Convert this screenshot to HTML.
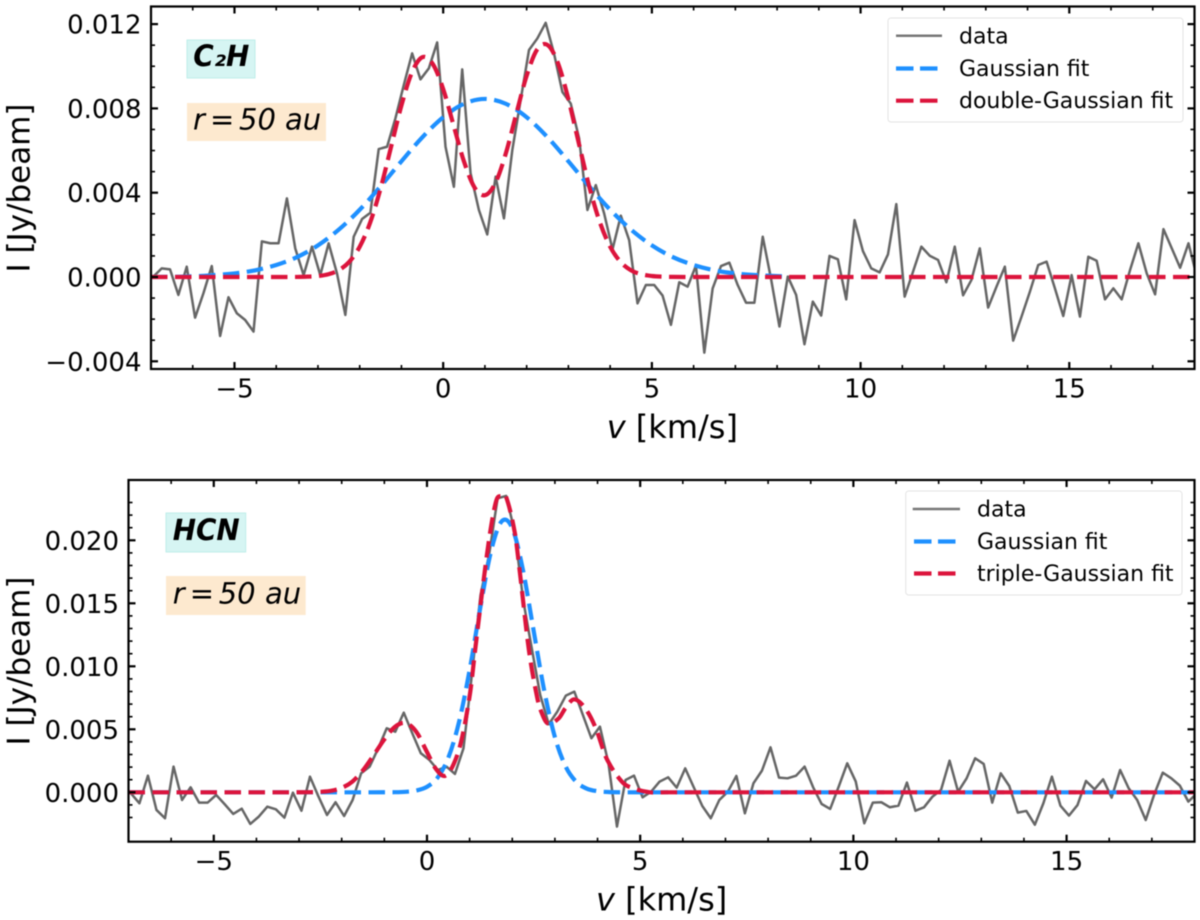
<!DOCTYPE html>
<html lang="en">
<head>
<meta charset="utf-8">
<title>C2H and HCN line spectra</title>
<style>
html,body{margin:0;padding:0;background:#fff;width:1200px;height:920px;overflow:hidden}
svg{display:block;filter:blur(0.5px)}
text{font-family:"DejaVu Sans","Liberation Sans",sans-serif;fill:#000}
</style>
</head>
<body>
<svg id="chart" xmlns="http://www.w3.org/2000/svg" width="1200" height="920" viewBox="0 0 1200 920">
  <rect x="0" y="0" width="1200" height="920" fill="#fff"/>
  <defs>
    <clipPath id="clip-top"><rect x="151" y="6.5" width="1043.5" height="362.5"/></clipPath>
    <clipPath id="clip-bottom"><rect x="128.5" y="480" width="1066" height="361.7"/></clipPath>
  </defs>

  <g id="panel-top">
    <g id="top-series" clip-path="url(#clip-top)"></g>
    <g id="top-ticks"></g>
    <rect x="151" y="6.5" width="1043.5" height="362.5" fill="none" stroke="#000" stroke-width="2.2"/>
    <rect x="187" y="40" width="68" height="38" fill="#d6f5f3" stroke="#bfeee9" stroke-width="1"/>
    <text x="193.3" y="66" font-size="29" font-weight="bold" font-style="italic" textLength="56" lengthAdjust="spacingAndGlyphs">C₂H</text>
    <rect x="187" y="103" width="139" height="38" fill="#fde9cf"/>
    <text y="129.3" font-size="29" font-style="italic"><tspan x="193">r</tspan><tspan x="210">=</tspan><tspan x="239">50</tspan><tspan x="285">au</tspan></text>
    <g>
      <rect x="888" y="18" width="295" height="104" rx="3" fill="#fff" stroke="#e4e4e4" stroke-width="1"/>
      <line x1="896" y1="35.7" x2="942" y2="35.7" stroke="#777" stroke-width="2.5"/>
      <text x="959" y="43.3" font-size="22">data</text>
      <line x1="896" y1="68.5" x2="938" y2="68.5" stroke="#1e90ff" stroke-width="4.2" stroke-dasharray="17.5 6.5"/>
      <text x="959" y="76" font-size="22">Gaussian fit</text>
      <line x1="896" y1="100.7" x2="938" y2="100.7" stroke="#dc143c" stroke-width="4.2" stroke-dasharray="17.5 6.5"/>
      <text x="959" y="108" font-size="22">double-Gaussian fit</text>
    </g>
    <text x="606.7" y="438" font-size="32"><tspan font-style="italic">v</tspan> [km/s]</text>
    <text transform="translate(29.5 188) rotate(-90)" text-anchor="middle" font-size="31">I [Jy/beam]</text>
  </g>

  <g id="panel-bottom">
    <g id="bottom-series" clip-path="url(#clip-bottom)"></g>
    <g id="bottom-ticks"></g>
    <rect x="128.5" y="480" width="1066" height="361.7" fill="none" stroke="#000" stroke-width="2.2"/>
    <rect x="166" y="513" width="79.7" height="39" fill="#d6f5f3" stroke="#bfeee9" stroke-width="1"/>
    <text x="172.7" y="540" font-size="29" font-weight="bold" font-style="italic" textLength="67" lengthAdjust="spacingAndGlyphs">HCN</text>
    <rect x="166" y="576" width="139.7" height="39" fill="#fde9cf"/>
    <text y="603.3" font-size="29" font-style="italic"><tspan x="172.7">r</tspan><tspan x="189.7">=</tspan><tspan x="218.7">50</tspan><tspan x="265">au</tspan></text>
    <g>
      <rect x="905.7" y="491" width="276.3" height="104" rx="3" fill="#fff" stroke="#e4e4e4" stroke-width="1"/>
      <line x1="912.7" y1="509" x2="960" y2="509" stroke="#777" stroke-width="2.5"/>
      <text x="977" y="516.7" font-size="22">data</text>
      <line x1="914" y1="541.5" x2="956" y2="541.5" stroke="#1e90ff" stroke-width="4.2" stroke-dasharray="17.5 6.5"/>
      <text x="977" y="549" font-size="22">Gaussian fit</text>
      <line x1="914" y1="573.5" x2="956" y2="573.5" stroke="#dc143c" stroke-width="4.2" stroke-dasharray="17.5 6.5"/>
      <text x="977" y="581" font-size="22">triple-Gaussian fit</text>
    </g>
    <text x="596" y="910.7" font-size="32"><tspan font-style="italic">v</tspan> [km/s]</text>
    <text transform="translate(29.5 661) rotate(-90)" text-anchor="middle" font-size="31">I [Jy/beam]</text>
  </g>
</svg>

<script>
// Intensities are in mJy/beam; tick labels are printed in Jy/beam.
const velocityStart = -7.144;
const velocityStep = 0.2;

const xMajorTicks = [-5, 0, 5, 10, 15];
const xMajorLabels = ["\u22125", "0", "5", "10", "15"];
const xMinorTicks = [-6, -4, -3, -2, -1, 1, 2, 3, 4, 6, 7, 8, 9, 11, 12, 13, 14, 16, 17];

const c2hYMajorTicks = [-4, 0, 4, 8, 12];
const c2hYMajorLabels = ["\u22120.004", "0.000", "0.004", "0.008", "0.012"];
const c2hYMinorTicks = [-3, -2, -1, 1, 2, 3, 5, 6, 7, 9, 10, 11];

const hcnYMajorTicks = [0, 5, 10, 15, 20];
const hcnYMajorLabels = ["0.000", "0.005", "0.010", "0.015", "0.020"];
const hcnYMinorTicks = [-2, -1, 1, 2, 3, 4, 6, 7, 8, 9, 11, 12, 13, 14, 16, 17, 18, 19, 21, 22, 23];

const c2hData = [0.0, 0.02, 0.41, 0.36, -0.85, 0.49, -1.93, -0.77, 0.52, -2.80, -0.96, -1.72, -2.04, -2.59, 1.69, 1.60, 1.60, 3.73, 1.36, 0.09,
  1.44, 0.09, 1.60, 0.17, -1.80, 1.91, 2.75, 3.05, 6.07, 6.18, 7.53, 9.11, 10.61, 9.38, 9.90, 11.13, 6.18, 4.28, 9.85, 4.92,
  3.18, 2.02, 4.76, 2.78, 6.02, 8.40, 10.77, 11.32, 12.06, 10.6, 8.78, 8.23, 6.58, 3.18, 4.36, 3.02, 1.31, 2.91, 1.75, -1.25,
  -0.38, -0.38, -0.88, -2.27, -0.25, -0.46, 0.54, -3.59, -0.54, 0.52, 0.68, -0.38, -1.22, -1.22, 1.91, -0.10, -2.35, 0.02, -0.85, -3.19,
  -1.17, -1.83, 1.00, 0.84, -1.06, 2.70, 1.23, 0.41, 0.22, 1.07, 3.46, -0.93, 0.25, 1.44, 1.01, 0.81, -0.25, 1.44, -0.87, -0.14,
  1.36, -1.45, -0.46, 0.49, -3.02, -1.88, -0.70, 0.57, 0.73, -0.54, -1.85, 0.09, -1.88, 0.96, 0.77, -1.06, -0.54, -1.06, 0.33, 1.60,
  0.17, -0.82, 2.27, 1.36, 0.44, 1.60, 0.02];

const c2hGaussV = [-7, -6, -5.5, -5, -4.5, -4, -3.5, -3, -2.5, -2, -1.5, -1, -0.5, 0, 0.5, 1, 1.5, 2, 2.5, 3, 3.5, 4, 4.5, 5, 5.5, 6, 6.5, 7, 7.5, 8, 8.2];
const c2hGaussI = [0, 0.03, 0.088, 0.17, 0.32, 0.57, 0.946, 1.50, 2.25, 3.19, 4.30, 5.49, 6.63, 7.58, 8.22, 8.45, 8.22, 7.58, 6.63, 5.49, 4.30, 3.19, 2.25, 1.50, 0.946, 0.57, 0.32, 0.17, 0.088, 0.042, 0.03];

const c2hDoubleV = [-7, -4, -3.5, -3.25, -3, -2.75, -2.5, -2.25, -2, -1.75, -1.5, -1.25, -1, -0.75, -0.5, -0.25, 0, 0.25, 0.5, 0.75, 1, 1.25, 1.5, 1.75, 2, 2.25, 2.5, 2.75, 3, 3.25, 3.5, 3.75, 4, 4.25, 4.5, 4.75, 5, 5.25, 5.5, 6, 18];
const c2hDoubleI = [0, 0, 0.004, 0.016, 0.048, 0.132, 0.325, 0.72, 1.435, 2.58, 4.20, 6.16, 8.14, 9.70, 10.43, 10.11, 8.92, 7.19, 5.47, 4.25, 3.88, 4.46, 5.86, 7.73, 9.55, 10.79, 11.01, 10.15, 8.44, 6.34, 4.29, 2.62, 1.44, 0.715, 0.32, 0.129, 0.047, 0.015, 0.005, 0, 0];

const hcnData = [0.0, -0.08, -0.87, 1.32, -1.40, -2.06, 2.04, -0.61, 0.40, -0.82, -0.82, -0.21, -0.95, -1.72, -1.30, -2.51, -1.93, -1.14, -1.35, -2.01,
  -0.03, -1.46, 1.24, -0.34, -1.80, -0.79, -1.88, -0.61, 1.51, 2.04, 3.49, 5.08, 4.81, 6.32, 4.68, 3.10, 2.57, 1.77, 2.04, 1.46,
  3.49, 9.44, 15.66, 18.84, 23.33, 23.52, 20.7, 15.26, 11.45, 7.72, 5.4, 6.40, 7.67, 7.99, 6.14, 4.29, 5.21, 2.30, -2.72, 0.98,
  1.32, -0.40, 0.05, 0.85, 1.19, 0.37, 1.90, 0.40, -1.08, -2.06, -0.61, 0.05, 1.30, -1.67, 0.71, 1.72, 3.57, 1.16, 1.11, 1.32,
  2.04, 0.40, -0.93, -1.32, 0.45, 2.30, 0.85, -2.46, -0.82, -0.79, -1.19, -1.06, 0.77, -1.46, -1.19, -0.34, 0.19, 2.51, 0.05, 1.11,
  2.70, 2.25, -0.82, 1.51, 0.50, -1.61, -1.48, -2.57, -0.87, 1.24, -1.06, -1.85, -1.01, 0.90, 0.24, 1.03, -0.42, 1.77, 0.32, -0.61,
  -2.20, -0.16, 1.56, 1.11, 0.53, -0.74, -0.08];

const hcnGaussV = [-7, -1.5, -0.75, -0.5, -0.25, 0, 0.25, 0.5, 0.75, 1, 1.25, 1.5, 1.75, 2, 2.25, 2.5, 2.75, 3, 3.25, 3.5, 3.75, 4, 4.25, 4.5, 5, 18];
const hcnGaussI = [0, 0, 0.008, 0.038, 0.14, 0.435, 1.17, 2.74, 5.56, 9.70, 14.65, 19.1, 21.5, 20.97, 17.66, 12.85, 8.07, 4.38, 2.06, 0.835, 0.29, 0.089, 0.023, 0.005, 0, 0];

const hcnTripleV = [-7, -3.25, -3, -2.75, -2.5, -2.25, -2, -1.75, -1.5, -1.25, -1, -0.75, -0.5, -0.25, 0, 0.2, 0.42, 0.62, 0.81, 1.01, 1.13, 1.32, 1.48, 1.63, 1.75, 1.85, 2.06, 2.18, 2.39, 2.58, 2.68, 2.83, 3.09, 3.25, 3.45, 3.71, 3.96, 4.21, 4.57, 4.83, 5.23, 5.6, 18];
const hcnTripleI = [0, 0, 0.005, 0.01, 0.04, 0.12, 0.35, 0.85, 1.75, 2.95, 4.2, 5.2, 5.5, 4.8, 3.2, 1.9, 1.3, 2.2, 4.15, 7.86, 11.3, 16.6, 20.6, 23.2, 23.5, 23.5, 20.6, 17.4, 11.3, 7.6, 6.4, 5.47, 5.87, 6.7, 7.38, 6.67, 5.08, 2.7, 0.85, 0.32, 0, 0, 0];

const NS = "http://www.w3.org/2000/svg";

function makeScale(d0, d1, r0, r1) {
  return function (value) { return r0 + (value - d0) * (r1 - r0) / (d1 - d0); };
}

// Top panel axes
const topX = makeScale(-7, 18, 151, 1194.5);
const topY = makeScale(0, 4, 277, 192.7);
// Bottom panel axes
const bottomX = makeScale(-7, 18, 128.5, 1194.5);
const bottomY = makeScale(0, 5, 792.3, 729.3);

function tracePolyline(values, xScale, yScale) {
  let d = "";
  values.forEach(function (value, i) {
    const v = velocityStart + velocityStep * i;
    d += (i ? "L" : "M") + xScale(v).toFixed(2) + " " + yScale(value).toFixed(2);
  });
  return d;
}

function traceSmooth(vs, is, xScale, yScale) {
  const px = vs.map(xScale);
  const py = is.map(yScale);
  const n = px.length;
  const slope = px.map(function (_, i) {
    if (i === 0 || i === n - 1) return 0;
    return (py[i + 1] - py[i - 1]) / (px[i + 1] - px[i - 1]);
  });
  let d = "M" + px[0].toFixed(2) + " " + py[0].toFixed(2);
  for (let i = 0; i < n - 1; i++) {
    const h = (px[i + 1] - px[i]) / 3;
    d += "C" + (px[i] + h).toFixed(2) + " " + (py[i] + slope[i] * h).toFixed(2) + " " +
      (px[i + 1] - h).toFixed(2) + " " + (py[i + 1] - slope[i + 1] * h).toFixed(2) + " " +
      px[i + 1].toFixed(2) + " " + py[i + 1].toFixed(2);
  }
  return d;
}

function addPath(parent, d, stroke, width, dash) {
  const el = document.createElementNS(NS, "path");
  el.setAttribute("d", d);
  el.setAttribute("fill", "none");
  el.setAttribute("stroke", stroke);
  el.setAttribute("stroke-width", width);
  el.setAttribute("stroke-linejoin", "round");
  if (dash) el.setAttribute("stroke-dasharray", dash);
  parent.appendChild(el);
  return el;
}

function addTick(parent, x1, y1, x2, y2, width) {
  const el = document.createElementNS(NS, "line");
  el.setAttribute("x1", x1);
  el.setAttribute("y1", y1);
  el.setAttribute("x2", x2);
  el.setAttribute("y2", y2);
  el.setAttribute("stroke", "#000");
  el.setAttribute("stroke-width", width);
  
  
  parent.appendChild(el);
}

function addLabel(parent, x, y, content, anchor) {
  const el = document.createElementNS(NS, "text");
  el.setAttribute("x", x);
  el.setAttribute("y", y);
  el.setAttribute("font-size", "26");
  el.setAttribute("text-anchor", anchor);
  
  
  el.textContent = content;
  parent.appendChild(el);
}

function drawTicks(group, xScale, yScale, left, right, top, bottom, yMajor, yLabels, yMinor) {
  const majorLen = 7, minorLen = 4;
  xMajorTicks.forEach(function (t, i) {
    const x = xScale(t);
    addTick(group, x, bottom, x, bottom - majorLen, 2.2);
    addTick(group, x, top, x, top + majorLen, 2.2);
    addLabel(group, x, bottom + 28.5, xMajorLabels[i], "middle");
  });
  xMinorTicks.forEach(function (t) {
    const x = xScale(t);
    addTick(group, x, bottom, x, bottom - minorLen, 1.6);
    addTick(group, x, top, x, top + minorLen, 1.6);
  });
  yMajor.forEach(function (t, i) {
    const y = yScale(t);
    addTick(group, left, y, left + majorLen, y, 2.2);
    addTick(group, right, y, right - majorLen, y, 2.2);
    addLabel(group, left - 9.5, y + 9.5, yLabels[i], "end");
  });
  yMinor.forEach(function (t) {
    const y = yScale(t);
    addTick(group, left, y, left + minorLen, y, 1.6);
    addTick(group, right, y, right - minorLen, y, 1.6);
  });
}

const DASH = "16.5 7.5";
const topSeries = document.getElementById("top-series");
const bottomSeries = document.getElementById("bottom-series");

const c2hDataLine = addPath(topSeries, tracePolyline(c2hData, topX, topY), "#666", 2.5);


const c2hGaussLine = addPath(topSeries, traceSmooth(c2hGaussV, c2hGaussI, topX, topY), "#1e90ff", 4.2, DASH);


const c2hDoubleLine = addPath(topSeries, traceSmooth(c2hDoubleV, c2hDoubleI, topX, topY), "#dc143c", 4.2, DASH);



const hcnDataLine = addPath(bottomSeries, tracePolyline(hcnData, bottomX, bottomY), "#666", 2.5);


const hcnGaussLine = addPath(bottomSeries, traceSmooth(hcnGaussV, hcnGaussI, bottomX, bottomY), "#1e90ff", 4.2, DASH);


const hcnTripleLine = addPath(bottomSeries, traceSmooth(hcnTripleV, hcnTripleI, bottomX, bottomY), "#dc143c", 4.2, DASH);



drawTicks(document.getElementById("top-ticks"), topX, topY, 151, 1194.5, 6.5, 369, c2hYMajorTicks, c2hYMajorLabels, c2hYMinorTicks);
drawTicks(document.getElementById("bottom-ticks"), bottomX, bottomY, 128.5, 1194.5, 480, 841.7, hcnYMajorTicks, hcnYMajorLabels, hcnYMinorTicks);
</script>
</body>
</html>
